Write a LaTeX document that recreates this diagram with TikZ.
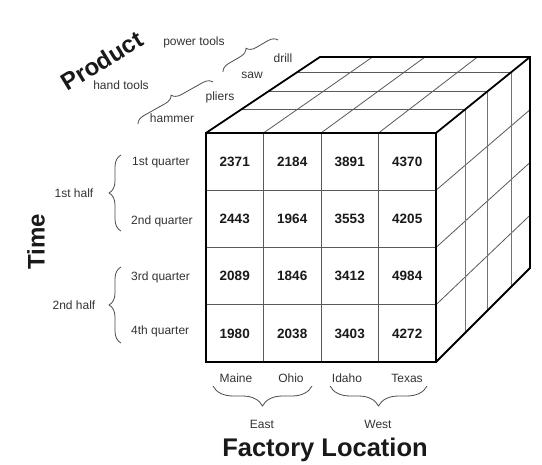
\documentclass[tikz,border=0pt]{standalone}
\usepackage{fontspec}
\setmainfont{Liberation Sans}
\usetikzlibrary{decorations.pathreplacing,calc}
\tikzset{
  edge/.style={line width=1.8pt, line join=miter, black},
  inner/.style={line width=0.8pt, black!65},
  side/.style={line width=1pt, black!55},
  val/.style={font=\fontsize{13.5}{16}\selectfont\bfseries, text=black!90},
  lab/.style={font=\fontsize{12}{14}\selectfont, text=black!80, inner sep=0pt},
  title/.style={font=\fontsize{24}{28}\selectfont\bfseries, text=black!90, inner sep=0pt},
  brc/.style={decorate, decoration={brace, amplitude=#1}, line width=0.8pt, black!70},
}
\begin{document}
\begin{tikzpicture}[x=1pt,y=-1pt]
\useasboundingbox (0,0) rectangle (542,465);
\fill[white] (0,0) rectangle (542,465);
% corners
\coordinate (FTL) at (206,133);
\coordinate (FTR) at (436,133);
\coordinate (FBR) at (436,362);
\coordinate (FBL) at (206,362);
\coordinate (BTL) at (320,57);
\coordinate (BTR) at (530,57);
\coordinate (BBR) at (530,268);
% top face: depth lines
\foreach \k in {1,2,3}{
  \draw[inner] ($(FTL)!\k/4!(FTR)$) -- ($(BTL)!\k/4!(BTR)$);
}
% top face: cross lines
\foreach \t in {0.31,0.55,0.8}{
  \draw[inner] ($(FTL)!\t!(BTL)$) -- ($(FTR)!\t!(BTR)$);
}
% right face: horizontal-ish lines
\foreach \k in {1,2,3}{
  \draw[inner] ($(FTR)!\k/4!(FBR)$) -- ($(BTR)!\k/4!(BBR)$);
}
% right face: vertical lines
\foreach \t in {0.31,0.55,0.8}{
  \draw[side] ($(FTR)!\t!(BTR)$) -- ($(FBR)!\t!(BBR)$);
}
% front face grid
\foreach \k in {1,2,3}{
  \draw[inner] ($(FTL)!\k/4!(FTR)$) -- ($(FBL)!\k/4!(FBR)$);
  \draw[inner] ($(FTL)!\k/4!(FBL)$) -- ($(FTR)!\k/4!(FBR)$);
}
% outline
\draw[edge] (FTL) rectangle (FBR);
\draw[edge] (FTL) -- (BTL) -- (BTR) -- (BBR) -- (FBR);
\draw[edge] (FTR) -- (BTR);
% values
\foreach \r/\vals in {0/{2371,2184,3891,4370},1/{2443,1964,3553,4205},2/{2089,1846,3412,4984},3/{1980,2038,3403,4272}}{
  \foreach \v [count=\c from 0] in \vals {
    \node[val] (v\r\c) at ({206+57.5*(\c+0.5)},{133+57.25*(\r+0.5)}) {\v};
  }
}
% time labels
\node[lab, anchor=west] (q1) at (132,163) {1st quarter};
\node[lab, anchor=west] (q2) at (131,221) {2nd quarter};
\node[lab, anchor=west] (q3) at (131,277) {3rd quarter};
\node[lab, anchor=west] (q4) at (131,331) {4th quarter};
\coordinate (t1a) at (121,231); \coordinate (t1b) at (121,155);
\coordinate (t2a) at (121,343); \coordinate (t2b) at (121,267);
\draw[brc=12] (t1a) -- (t1b);
\draw[brc=12] (t2a) -- (t2b);
\node[lab] (h1) at (74,193) {1st half};
\node[lab] (h2) at (74,305) {2nd half};
\node[title, rotate=90] (time) at (36,242) {Time};
% location labels
\node[lab] (maine) at (236,378) {Maine};
\node[lab] (ohio) at (291,378) {Ohio};
\node[lab] (idaho) at (347,378) {Idaho};
\node[lab] (texas) at (407,378) {Texas};
\coordinate (e1) at (312,386); \coordinate (e2) at (213,386);
\coordinate (w1) at (427,386); \coordinate (w2) at (330,386);
\draw[brc=20] (e1) -- (e2);
\draw[brc=20] (w1) -- (w2);
\node[lab] (east) at (262,424) {East};
\node[lab] (west) at (378,424) {West};
\node[title, font=\fontsize{25.5}{30}\selectfont\bfseries] (fl) at (325,450) {Factory Location};
% product labels
\node[lab] (pt) at (194,42) {power tools};
\node[lab] (drill) at (283,58) {drill};
\node[lab] (saw) at (252,75) {saw};
\node[lab] (ht) at (121,85) {hand tools};
\node[lab] (pliers) at (220,97) {pliers};
\node[lab] (hammer) at (172,118) {hammer};
\coordinate (p1) at (223,72); \coordinate (p2) at (278,40);
\coordinate (h1a) at (138,124); \coordinate (h1b) at (213,82);
\draw[brc=9] (p1) -- (p2);
\draw[brc=9] (h1a) -- (h1b);
\node[title, rotate=31.5] (prod) at (102,61) {Product};
\end{tikzpicture}
\end{document}
